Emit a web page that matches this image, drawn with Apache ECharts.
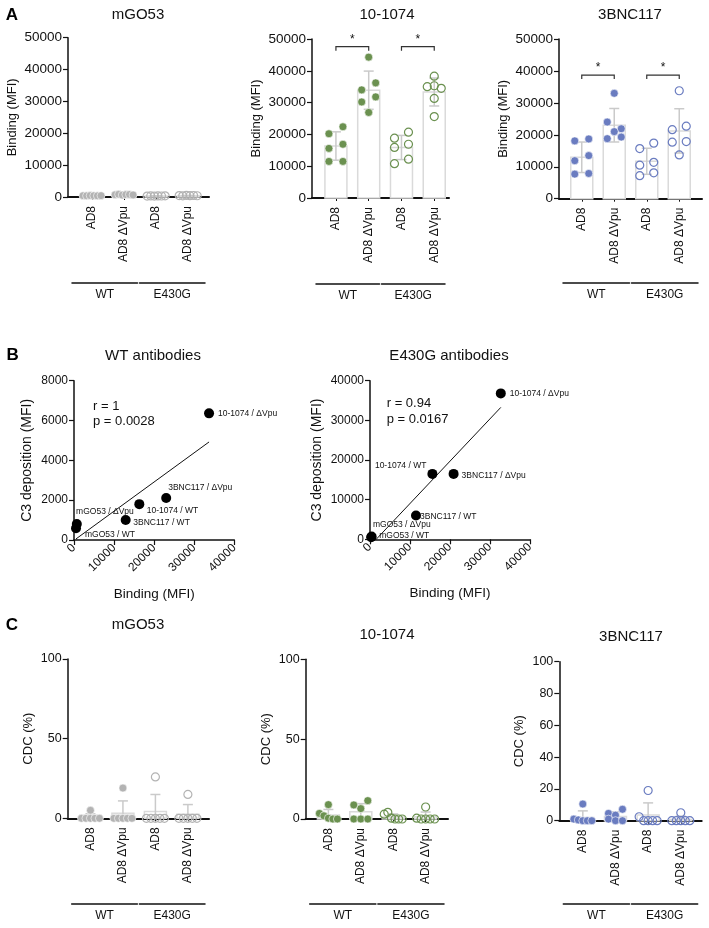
<!DOCTYPE html>
<html><head><meta charset="utf-8">
<script src="https://cdn.jsdelivr.net/npm/echarts@6/dist/echarts.min.js"></script>
<style>html,body{margin:0;padding:0;background:#fff}#c{width:709px;height:928px}</style>
</head><body><div id="c"></div>
<script>
// ---------------- DATA ----------------
const categories = ['AD8', 'AD8 ΔVpu', 'AD8', 'AD8 ΔVpu'];
const groups = ['WT', 'E430G'];
const antibodies = ['mGO53', '10-1074', '3BNC117'];

// Panel A: binding (MFI), 6 replicates per condition [WT AD8, WT ΔVpu, E430G AD8, E430G ΔVpu]
const bindingMGO53 = [
  [420, 380, 450, 400, 360, 430],
  [700, 850, 600, 750, 800, 650],
  [300, 350, 280, 330, 310, 360],
  [450, 380, 500, 420, 470, 400]
];
const binding1074 = [
  [20200, 22400, 15600, 16900, 11500, 11500],
  [44300, 34000, 36200, 30200, 31800, 26900],
  [18800, 20700, 15900, 16900, 10800, 12200],
  [38300, 35000, 35300, 34500, 31300, 25600]
];
const binding3BNC117 = [
  [18100, 18700, 11900, 13500, 7700, 7900],
  [33000, 24000, 21900, 18800, 21000, 19300],
  [15700, 17400, 10500, 11400, 7200, 8100],
  [33800, 21600, 22700, 17700, 17900, 13700]
];
// significance brackets: [fromCategory, toCategory, height]
const brackets1074 = [[0, 1, 47600], [2, 3, 47600]];
const brackets3BNC117 = [[0, 1, 38700], [2, 3, 38700]];

// Panel B: correlation binding vs C3 deposition
const bLabels = ['10-1074 / ΔVpu', '3BNC117 / ΔVpu', '10-1074 / WT', '3BNC117 / WT', 'mGO53 / ΔVpu', 'mGO53 / WT'];
const wtBinding = [33700, 23000, 16300, 12900, 700, 500];
const wtC3 = [6360, 2110, 1800, 1000, 800, 590];
const e430gBinding = [32700, 20900, 15600, 11500, 400, 300];
const e430gC3 = [36800, 16500, 16500, 6000, 700, 500];

// Panel C: CDC (%)
const cdcMGO53 = [
  [5, 0, 0, 0, 0, 0],
  [19, 0, 0, 0, 0, 0],
  [26, 0, 0, 0, 0, 0],
  [15, 0, 0, 0, 0, 0]
];
const cdc1074 = [
  [9, 3.5, 2, 0.5, 0, 0],
  [8.8, 11.5, 6.5, 0, 0, 0],
  [3, 4.2, 0.5, 0, 0, 0],
  [7.5, 0.5, 0, 0, 0, 0]
];
const cdc3BNC117 = [
  [10.5, 1, 0.5, 0, 0, 0],
  [4.6, 3.5, 7.2, 1, 0, 0],
  [19, 2.5, 0, 0, 0, 0],
  [5, 0, 0, 0, 0, 0]
];

// ---------------- STYLE / LAYOUT ----------------
const FONT = "'Liberation Sans', Arial, Helvetica, sans-serif";
const AX = '#111', TXT = '#111';
const GRAY = '#b3b3b3', GREEN = '#6b9150', BLUE = '#6a7cc0';
const plain = v => String(v);

const colCharts = [
  {vals: bindingMGO53, name: antibodies[0], color: GRAY, left: 68, top: 37.7, width: 141, height: 159.3, yMax: 50000, yInt: 10000, yName: 'Binding (MFI)', nameGap: 49, tickFont: 13.5, title: [138, 15], groupY: 282.7, xMin: -0.75, xMax: 3.65, brackets: null},
  {vals: binding1074, name: antibodies[1], color: GREEN, left: 312, top: 39, width: 137, height: 159, yMax: 50000, yInt: 10000, yName: 'Binding (MFI)', nameGap: 49, tickFont: 13.5, title: [387, 15], groupY: 284, xMin: -0.73, xMax: 3.45, brackets: brackets1074},
  {vals: binding3BNC117, name: antibodies[2], color: BLUE, left: 559, top: 39, width: 143, height: 159.7, yMax: 50000, yInt: 10000, yName: 'Binding (MFI)', nameGap: 49, tickFont: 13.5, title: [630, 15], groupY: 282.7, xMin: -0.7, xMax: 3.7, brackets: brackets3BNC117},
  {vals: cdcMGO53, name: antibodies[0], color: GRAY, left: 67.7, top: 659, width: 141.3, height: 159.3, yMax: 100, yInt: 50, yName: 'CDC (%)', nameGap: 33, tickFont: 12.5, title: [138, 625], groupY: 904, xMin: -0.7, xMax: 3.65, brackets: null},
  {vals: cdc1074, name: antibodies[1], color: GREEN, left: 305.7, top: 659.3, width: 142.3, height: 159.7, yMax: 100, yInt: 50, yName: 'CDC (%)', nameGap: 33, tickFont: 12.5, title: [387, 635], groupY: 904, xMin: -0.7, xMax: 3.69, brackets: null},
  {vals: cdc3BNC117, name: antibodies[2], color: BLUE, left: 559.3, top: 661.7, width: 142.4, height: 159, yMax: 100, yInt: 20, yName: 'CDC (%)', nameGap: 33, tickFont: 12.5, title: [631, 637], groupY: 903.3, xMin: -0.72, xMax: 3.64, brackets: null}
];

const wtLabelPos = ['right', 'right', 'right', 'right', 'right', 'right'];
const wtLabelOff = [[-1, 0], [-8, -10], [-2.6, 6], [-2.4, 3], [-10.7, -12.3], [-1, 6]];
const eLabelPos = ['right', 'right', 'left', 'right', 'right', 'right'];
const eLabelOff = [[-1, 0.7], [-2, 1.3], [4, -8], [-6, 0.7], [-8.6, -11.7], [-2, -2]];

const scatterCharts = [
  {title: 'WT antibodies', xs: wtBinding, ys: wtC3, r: 'r = 1', p: 'p = 0.0028', left: 74, top: 380.7, width: 160.3, height: 159.3, yMax: 8000, yInt: 2000, titleXY: [153, 356], statXY: [93, 406], nameGapY: 40, pos: wtLabelPos, off: wtLabelOff},
  {title: 'E430G antibodies', xs: e430gBinding, ys: e430gC3, r: 'r = 0.94', p: 'p = 0.0167', left: 370, top: 380.7, width: 160, height: 158.6, yMax: 40000, yInt: 10000, titleXY: [449, 356], statXY: [386.7, 403.3], nameGapY: 46, pos: eLabelPos, off: eLabelOff}
];

// ---------------- HELPERS ----------------
function stats(v) {
  const n = v.length, m = v.reduce((a, b) => a + b, 0) / n;
  const sd = Math.sqrt(v.reduce((a, b) => a + (b - m) * (b - m), 0) / (n - 1));
  return [m, sd];
}
// column-scatter layout: points with overlapping heights are spread sideways
function swarmOffsets(vals, pxPerUnit) {
  const idx = vals.map((v, i) => i).sort((a, b) => vals[b] - vals[a]);
  const rows = []; let cur = null;
  idx.forEach(i => {
    const py = vals[i] * pxPerUnit;
    if (cur && cur.start - py < 7.5) cur.members.push(i);
    else { cur = {start: py, members: [i]}; rows.push(cur); }
  });
  const off = new Array(vals.length).fill(0);
  rows.forEach(r => {
    const m = r.members.slice().sort((a, b) => a - b), n = m.length;
    const step = n === 2 ? 14 : Math.min(7, 18 / Math.max(n - 1, 1));
    m.forEach((i, k) => { off[i] = (k - (n - 1) / 2) * step; });
  });
  return off;
}
function linreg(xs, ys) {
  const n = xs.length;
  const mx = xs.reduce((a, b) => a + b, 0) / n, my = ys.reduce((a, b) => a + b, 0) / n;
  let sxy = 0, sxx = 0;
  xs.forEach((x, i) => { sxy += (x - mx) * (ys[i] - my); sxx += (x - mx) * (x - mx); });
  const b = sxy / sxx, a = my - b * mx;
  const x0 = Math.min(...xs), x1 = Math.max(...xs);
  return [[x0, a + b * x0], [x1, a + b * x1]];
}

const option = {
  animation: false, backgroundColor: '#fff',
  textStyle: {fontFamily: FONT},
  grid: [], xAxis: [], yAxis: [], series: [], graphic: []
};
function addGrid(g) {
  option.grid.push(Object.assign({show: false, containLabel: false, outerBoundsMode: 'none'}, g));
  return option.grid.length - 1;
}
function addText(text, x, y, size, extra) {
  option.graphic.push({type: 'text', x: x, y: y, silent: true,
    style: Object.assign({text: text, fontSize: size, fontFamily: FONT, fill: TXT, align: 'center', verticalAlign: 'middle'}, extra || {})});
}

// ---------------- COLUMN CHARTS (A, C) ----------------
colCharts.forEach(c => {
  const gi = addGrid({left: c.left, top: c.top, width: c.width, height: c.height});
  option.xAxis.push({gridIndex: gi, type: 'value', min: c.xMin, max: c.xMax,
    axisLine: {show: true, onZero: false, lineStyle: {color: AX, width: 2}},
    axisTick: {show: true, customValues: [0, 1, 2, 3], length: 3, lineStyle: {color: AX, width: 1}},
    axisLabel: {show: true, customValues: [0, 1, 2, 3], formatter: v => categories[Math.round(v)], rotate: 90, margin: 9, fontSize: 12, color: TXT, fontFamily: FONT},
    splitLine: {show: false}});
  option.yAxis.push({gridIndex: gi, type: 'value', min: 0, max: c.yMax, interval: c.yInt,
    axisLine: {show: true, onZero: false, lineStyle: {color: AX, width: 1.5}},
    axisTick: {show: true, length: 5, lineStyle: {color: AX, width: 1.2}},
    axisLabel: {margin: 6, fontSize: c.tickFont, color: TXT, fontFamily: FONT, formatter: plain},
    splitLine: {show: false},
    name: c.yName, nameLocation: 'middle', nameGap: c.nameGap,
    nameTextStyle: {fontSize: 13, color: TXT, fontFamily: FONT}});

  groups.forEach((g, j) => {
    const half = c.width / 2;
    const gj = addGrid({left: j === 0 ? c.left + 4 : c.left + half + 1, top: c.groupY - 1, width: half - 5, height: 1});
    option.xAxis.push({gridIndex: gj, type: 'category', data: [g], position: 'bottom',
      axisLine: {show: true, lineStyle: {color: AX, width: 1.5}}, axisTick: {show: false},
      axisLabel: {margin: 6, fontSize: 12, color: TXT, fontFamily: FONT}, splitLine: {show: false}});
    option.yAxis.push({gridIndex: gj, type: 'value', show: false});
  });

  // bars (mean) + SD error bars
  option.series.push({type: 'custom', xAxisIndex: gi, yAxisIndex: gi, z: 1,
    data: c.vals.map((v, i) => { const s = stats(v); return [i, s[0], s[1]]; }),
    renderItem: (params, api) => {
      const x = api.value(0), m = api.value(1), sd = api.value(2);
      const base = api.coord([x, 0]), top = api.coord([x, m]);
      const hi = api.coord([x, m + sd]), lo = api.coord([x, Math.max(m - sd, 0)]);
      const bw = 22, cap = 5;
      const ch = [
        {type: 'rect', shape: {x: base[0] - bw / 2, y: top[1], width: bw, height: base[1] - top[1]},
          style: {fill: '#fff', stroke: '#dadada', lineWidth: 1.5}},
        {type: 'line', shape: {x1: hi[0], y1: hi[1], x2: lo[0], y2: lo[1]}, style: {stroke: '#cacaca', lineWidth: 1.5}},
        {type: 'line', shape: {x1: hi[0] - cap, y1: hi[1], x2: hi[0] + cap, y2: hi[1]}, style: {stroke: '#cacaca', lineWidth: 1.5}}
      ];
      if (m - sd > 0) ch.push({type: 'line', shape: {x1: lo[0] - cap, y1: lo[1], x2: lo[0] + cap, y2: lo[1]}, style: {stroke: '#cacaca', lineWidth: 1.5}});
      return {type: 'group', children: ch};
    }});

  // points
  const ppu = c.height / c.yMax;
  c.vals.forEach((v, i) => {
    const off = swarmOffsets(v, ppu);
    const filled = i < 2;
    option.series.push({type: 'scatter', xAxisIndex: gi, yAxisIndex: gi, z: 3,
      symbol: 'circle', symbolSize: 8,
      itemStyle: filled ? {color: c.color, borderColor: '#fff', borderWidth: 0.6, opacity: 1}
                        : {color: 'rgba(255,255,255,0)', borderColor: c.color, borderWidth: 1.2, opacity: 1},
      data: v.map((y, k) => ({value: [i, y], symbolOffset: [off[k], 0]}))});
  });

  // significance brackets
  if (c.brackets) {
    option.series.push({type: 'custom', xAxisIndex: gi, yAxisIndex: gi, z: 4, data: c.brackets,
      renderItem: (params, api) => {
        const a = api.coord([api.value(0), api.value(2)]);
        const b = api.coord([api.value(1), api.value(2)]);
        return {type: 'group', children: [
          {type: 'polyline', shape: {points: [[a[0], a[1] + 4], [a[0], a[1]], [b[0], b[1]], [b[0], b[1] + 4]]},
            style: {stroke: '#333', lineWidth: 1.2, fill: null}},
          {type: 'text', x: (a[0] + b[0]) / 2, y: a[1] - 1,
            style: {text: '*', fontSize: 12, fontFamily: FONT, fill: TXT, align: 'center', verticalAlign: 'bottom'}}
        ]};
      }});
  }
  addText(c.name, c.title[0], c.title[1], 15);
});

// ---------------- SCATTER / CORRELATION (B) ----------------
scatterCharts.forEach(s => {
  const gi = addGrid({left: s.left, top: s.top, width: s.width, height: s.height});
  option.xAxis.push({gridIndex: gi, type: 'value', min: 0, max: 40000, interval: 10000,
    axisLine: {show: true, onZero: false, lineStyle: {color: AX, width: 1.5}},
    axisTick: {show: true, length: 5, lineStyle: {color: AX, width: 1.2}},
    axisLabel: {rotate: 45, margin: 6, fontSize: 12, color: TXT, fontFamily: FONT, formatter: plain},
    splitLine: {show: false},
    name: 'Binding (MFI)', nameLocation: 'middle', nameGap: 47,
    nameTextStyle: {fontSize: 13.5, color: TXT, fontFamily: FONT}});
  option.yAxis.push({gridIndex: gi, type: 'value', min: 0, max: s.yMax, interval: s.yInt,
    axisLine: {show: true, onZero: false, lineStyle: {color: AX, width: 1.5}},
    axisTick: {show: true, length: 5, lineStyle: {color: AX, width: 1.2}},
    axisLabel: {margin: 6, fontSize: 12, color: TXT, fontFamily: FONT, formatter: plain},
    splitLine: {show: false},
    name: 'C3 deposition (MFI)', nameLocation: 'middle', nameGap: s.nameGapY,
    nameTextStyle: {fontSize: 14, color: TXT, fontFamily: FONT}});
  option.series.push({type: 'line', xAxisIndex: gi, yAxisIndex: gi, z: 2, clip: true,
    data: linreg(s.xs, s.ys), showSymbol: false, symbol: 'none',
    lineStyle: {color: AX, width: 1}});
  option.series.push({type: 'scatter', xAxisIndex: gi, yAxisIndex: gi, z: 3,
    symbol: 'circle', symbolSize: 10, itemStyle: {color: '#000', opacity: 1},
    label: {show: true, formatter: p => bLabels[p.dataIndex], fontSize: 8.5, color: TXT, fontFamily: FONT},
    data: s.xs.map((x, i) => ({value: [x, s.ys[i]], label: {position: s.pos[i], offset: s.off[i]}}))});
  addText(s.title, s.titleXY[0], s.titleXY[1], 15);
  addText(s.r, s.statXY[0], s.statXY[1], 13, {align: 'left'});
  addText(s.p, s.statXY[0], s.statXY[1] + 15.7, 13, {align: 'left'});
});

// panel letters
addText('A', 12, 15, 17, {fontWeight: 'bold', fill: '#000'});
addText('B', 12.7, 355, 17, {fontWeight: 'bold', fill: '#000'});
addText('C', 12, 625, 17, {fontWeight: 'bold', fill: '#000'});

const chart = echarts.init(document.getElementById('c'), null, {renderer: 'canvas', width: 709, height: 928});
chart.setOption(option);
</script>
</body></html>
